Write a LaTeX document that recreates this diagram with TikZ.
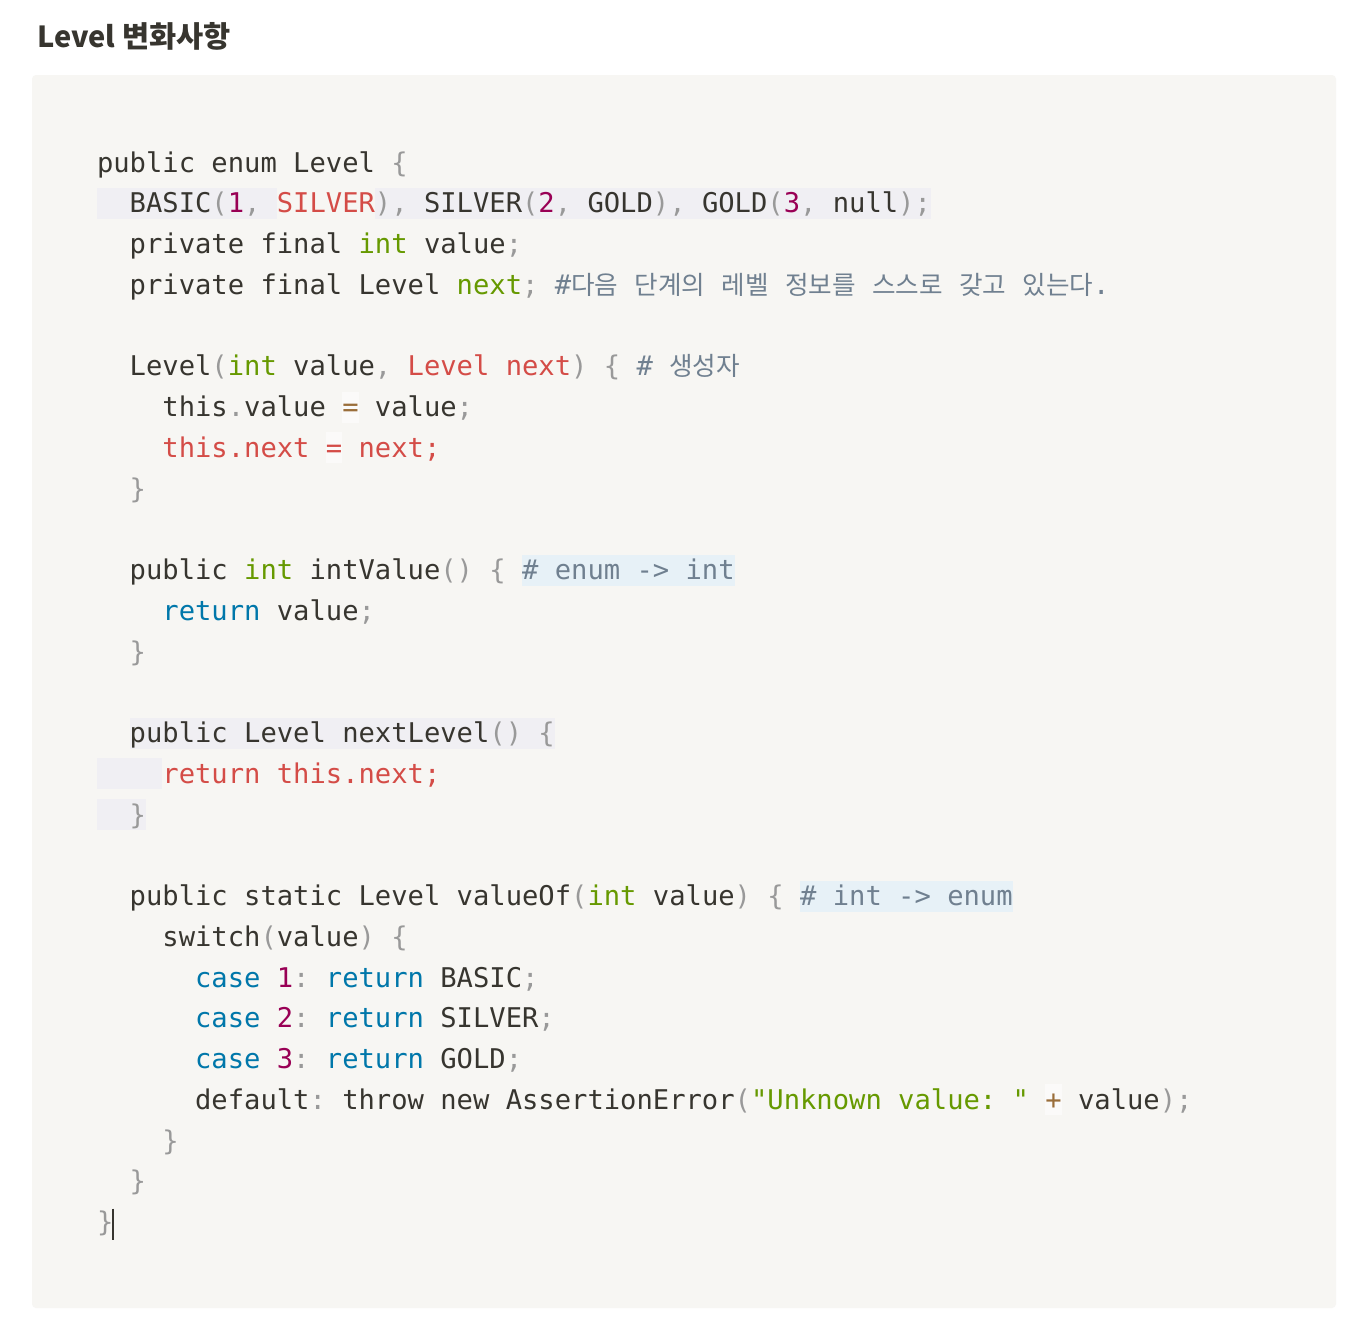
\documentclass[tikz,border=0pt]{standalone}
\usepackage{fontspec}
\setmonofont{DejaVu Sans Mono}
\newfontfamily\zcjk{Noto Sans CJK KR}
\definecolor{pagebg}{HTML}{FFFFFF}
\definecolor{codebg}{HTML}{F7F6F3}
\definecolor{cdef}{HTML}{37352F}
\definecolor{cpunc}{HTML}{999999}
\definecolor{ckey}{HTML}{0077AA}
\definecolor{cnum}{HTML}{990055}
\definecolor{cgreen}{HTML}{669900}
\definecolor{cred}{HTML}{D44C47}
\definecolor{ccom}{HTML}{708090}
\definecolor{cop}{HTML}{9A6E3A}
\definecolor{hlgray}{HTML}{F0EFF3}
\definecolor{hlblue}{HTML}{E7F1F7}
\newcommand\zP[1]{\textcolor{cpunc}{#1}}
\newcommand\zK[1]{\textcolor{ckey}{#1}}
\newcommand\zN[1]{\textcolor{cnum}{#1}}
\newcommand\zG[1]{\textcolor{cgreen}{#1}}
\newcommand\zR[1]{\textcolor{cred}{#1}}
\newcommand\zC[1]{\textcolor{ccom}{#1}}
\newcommand\zO[1]{\textcolor{cop}{#1}}
\newcommand\zko[1]{{\zcjk\fontsize{25.6}{30}\selectfont #1}}
\begin{document}
\begin{tikzpicture}[x=1pt,y=-1pt,
  codeline/.style={anchor=base west,inner sep=0pt,outer sep=0pt,text=cdef,
    font=\ttfamily\fontsize{27.16}{32}\selectfont},
  graybg/.style={fill=hlgray},
  bluebg/.style={fill=hlblue},
  opbg/.style={fill=white,fill opacity=0.55}]
\useasboundingbox (0,0) rectangle (1360,1326);
\fill[pagebg] (0,0) rectangle (1360,1326);
% title
\node[anchor=base west,inner sep=0pt,text=cdef] (title) at (37,47)
  {\zcjk\bfseries\fontsize{29}{36}\selectfont Level\hspace{7pt}\fontsize{29.5}{36}\selectfont 변화사항};
% code block
\fill[codebg,rounded corners=4pt] (32,75) rectangle (1336,1308);
% highlights
\fill[graybg] (97,187.75) rectangle (276.85,218.75);
\fill[graybg] (374.95,187.75) rectangle (930.85,218.75);
\fill[bluebg] (522.1,554.5) rectangle (734.65,585.5);
\fill[graybg] (129.7,717.5) rectangle (554.8,748.5);
\fill[graybg] (97,758.25) rectangle (162.4,789.25);
\fill[graybg] (97,799) rectangle (146.05,830);
\fill[bluebg] (800.05,880.5) rectangle (1012.6,911.5);
\fill[opbg] (342.25,391.5) rectangle (358.6,422.5);
\fill[opbg] (325.9,432.25) rectangle (342.25,463.25);
\fill[opbg] (1045.3,1084.25) rectangle (1061.65,1115.25);
% code lines
\node[codeline] (l1) at (97,172) {public enum Level \zP{\{}};
\node[codeline] (l2) at (129.7,212.75) {BASIC\zP{(}\zN{1}\zP{, }\zR{SILVER}\zP{), }SILVER\zP{(}\zN{2}\zP{, }GOLD\zP{), }GOLD\zP{(}\zN{3}\zP{, }null\zP{);}};
\node[codeline] (l3) at (129.7,253.5) {private final \zG{int} value\zP{;}};
\node[codeline] (l4) at (129.7,294.25) {private final Level \zG{next}\zP{;} \zC{\#\zko{다음} \zko{단계의} \zko{레벨} \zko{정보를} \zko{스스로} \zko{갖고} \zko{있는다}.}};
\node[codeline] (l6) at (129.7,375.75) {Level\zP{(}\zG{int} value\zP{, }\zR{Level next}\zP{) \{} \zC{\# \zko{생성자}}};
\node[codeline] (l7) at (162.4,416.5) {this\zP{.}value \zO{=} value\zP{;}};
\node[codeline] (l8) at (162.4,457.25) {\zR{this.next = next;}};
\node[codeline] (l9) at (129.7,498) {\zP{\}}};
\node[codeline] (l11) at (129.7,579.5) {public \zG{int} intValue\zP{() \{} \zC{\# enum -> int}};
\node[codeline] (l12) at (162.4,620.25) {\zK{return} value\zP{;}};
\node[codeline] (l13) at (129.7,661) {\zP{\}}};
\node[codeline] (l15) at (129.7,742.5) {public Level nextLevel\zP{() \{}};
\node[codeline] (l16) at (162.4,783.25) {\zR{return this.next;}};
\node[codeline] (l17) at (129.7,824) {\zP{\}}};
\node[codeline] (l19) at (129.7,905.5) {public static Level valueOf\zP{(}\zG{int} value\zP{) \{} \zC{\# int -> enum}};
\node[codeline] (l20) at (162.4,946.25) {switch\zP{(}value\zP{) \{}};
\node[codeline] (l21) at (195.1,987) {\zK{case} \zN{1}\zP{:} \zK{return} BASIC\zP{;}};
\node[codeline] (l22) at (195.1,1027.75) {\zK{case} \zN{2}\zP{:} \zK{return} SILVER\zP{;}};
\node[codeline] (l23) at (195.1,1068.5) {\zK{case} \zN{3}\zP{:} \zK{return} GOLD\zP{;}};
\node[codeline] (l24) at (195.1,1109.25) {default\zP{:} throw new AssertionError\zP{(}\zG{"Unknown value: "} \zO{+} value\zP{);}};
\node[codeline] (l25) at (162.4,1150) {\zP{\}}};
\node[codeline] (l26) at (129.7,1190.75) {\zP{\}}};
\node[codeline] (l27) at (97,1231.5) {\zP{\}}};
% cursor
\coordinate (cur1) at (112.5,1208.5);
\coordinate (cur2) at (112.5,1239.5);
\draw[cdef,line width=2pt] (cur1) -- (cur2);
\end{tikzpicture}
\end{document}
